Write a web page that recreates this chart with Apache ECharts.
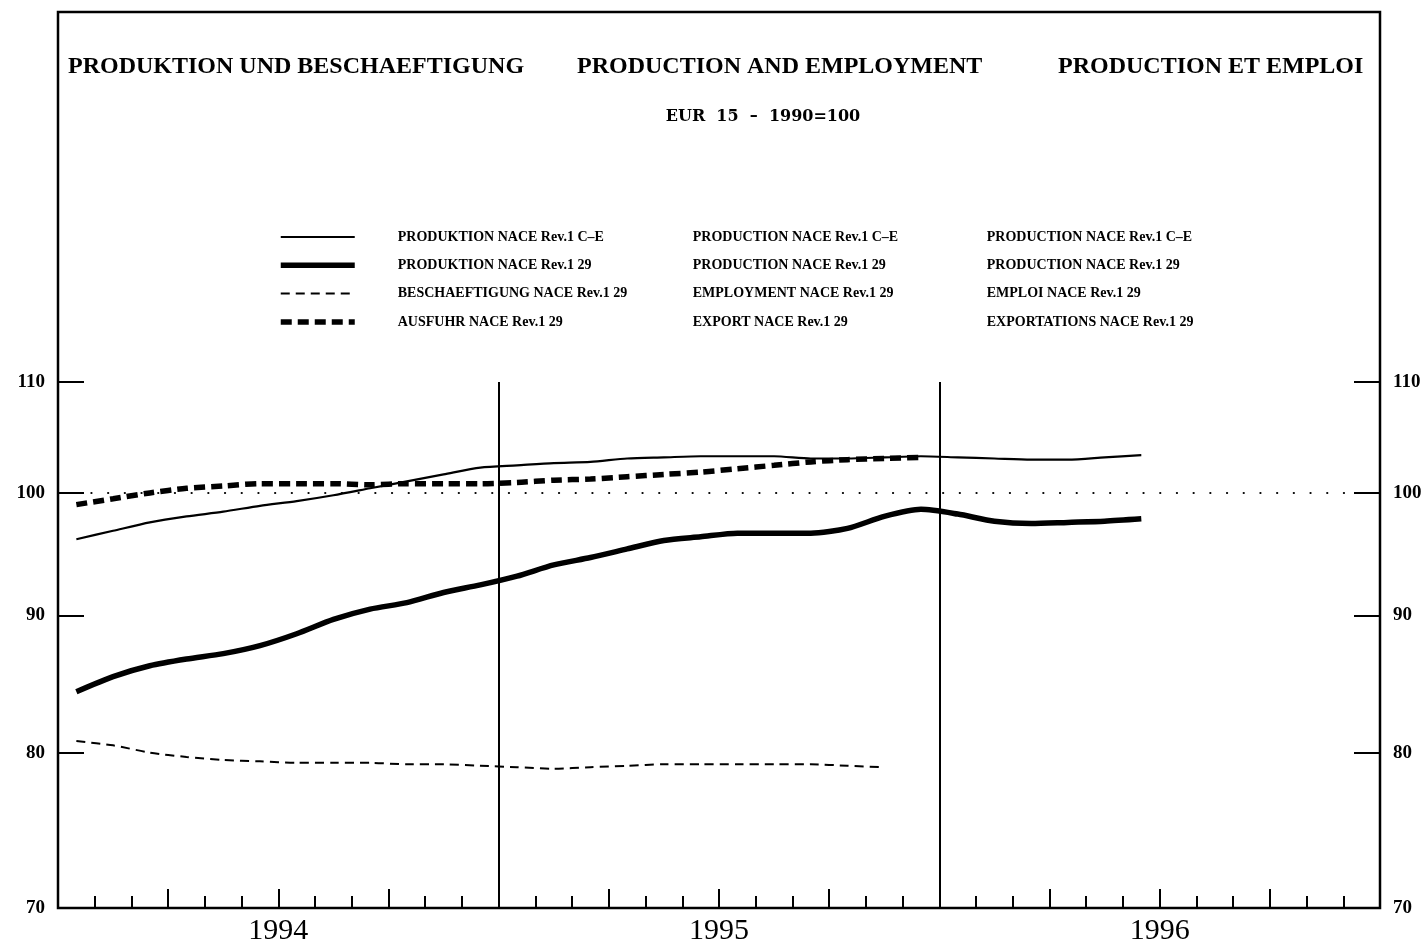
<!DOCTYPE html>
<html>
<head>
<meta charset="utf-8">
<script src="https://cdn.jsdelivr.net/npm/echarts@6/dist/echarts.min.js"></script>
<style>
html,body{margin:0;padding:0;background:#fff;}
#chart{width:1428px;height:942px;}
</style>
</head>
<body>
<div id="chart"></div>
<script>
// ---- data ----
const years = ['1994', '1995', '1996'];
const monthNames = ['01','02','03','04','05','06','07','08','09','10','11','12'];
const quarterNames = ['Q1','Q2','Q3','Q4'];
const yTicks = [70, 80, 90, 100, 110];

const prodCE = [96.1, 96.8, 97.5, 98.0, 98.4, 98.9, 99.3, 99.8, 100.4, 101.0, 101.6, 102.2,
                102.4, 102.6, 102.7, 103.0, 103.1, 103.2, 103.2, 103.2, 103.0, 103.0, 103.1, 103.2,
                103.1, 103.0, 102.9, 102.9, 103.1, 103.3];
const prod29 = [84.3, 85.4, 86.2, 86.7, 87.1, 87.7, 88.6, 89.7, 90.5, 91.0, 91.8, 92.4,
                93.1, 94.0, 94.6, 95.3, 96.0, 96.3, 96.6, 96.6, 96.6, 97.0, 98.0, 98.6,
                98.2, 97.6, 97.4, 97.5, 97.6, 97.8];
const employ29 = [80.8, 80.5, 80.0, 79.7, 79.5, 79.4, 79.3, 79.3, 79.3, 79.2, 79.2, 79.1,
                  79.0, 78.9, 79.0, 79.1, 79.2, 79.2, 79.2, 79.2, 79.2, 79.1, 79.0];
const export29 = [99.0, 99.5, 100.0, 100.4, 100.6, 100.8, 100.8, 100.8, 100.7, 100.8, 100.8, 100.8,
                  100.9, 101.1, 101.2, 101.4, 101.6, 101.8, 102.1, 102.4, 102.7, 102.9, 103.0, 103.1];
const baseValue = 100;

const legendDE = ['PRODUKTION NACE Rev.1 C\u2013E', 'PRODUKTION NACE Rev.1 29', 'BESCHAEFTIGUNG NACE Rev.1 29', 'AUSFUHR NACE Rev.1 29'];
const legendEN = ['PRODUCTION NACE Rev.1 C\u2013E', 'PRODUCTION NACE Rev.1 29', 'EMPLOYMENT NACE Rev.1 29', 'EXPORT NACE Rev.1 29'];
const legendFR = ['PRODUCTION NACE Rev.1 C\u2013E', 'PRODUCTION NACE Rev.1 29', 'EMPLOI NACE Rev.1 29', 'EXPORTATIONS NACE Rev.1 29'];

const titleDE = 'PRODUKTION UND BESCHAEFTIGUNG';
const titleEN = 'PRODUCTION AND EMPLOYMENT';
const titleFR = 'PRODUCTION ET EMPLOI';
const subtitle = 'EUR  15  \u2013  1990=100';

// ---- build ----
const categories = [];
years.forEach(y => monthNames.forEach(m => categories.push(y + '-' + m)));
const quarters = [];
years.forEach(y => quarterNames.forEach(q => quarters.push(y + q)));

const L = v => Math.log10(v);
const tf = arr => arr.map(L);

const serif = 'Liberation Serif';
const chart = echarts.init(document.getElementById('chart'), null, {renderer: 'canvas'});

const yAxisCommon = {
  type: 'value',
  gridIndex: 0,
  min: L(yTicks[0]),
  max: L(yTicks[yTicks.length - 1]),
  axisLine: {show: false},
  splitLine: {show: false},
  axisTick: {show: true, inside: true, length: 26, customValues: tf(yTicks), lineStyle: {color: '#000', width: 2}},
  axisLabel: {
    customValues: tf(yTicks),
    formatter: v => String(Math.round(Math.pow(10, v))),
    color: '#000', fontFamily: serif, fontWeight: 'bold', fontSize: 19, margin: 13
  }
};

const option = {
  backgroundColor: '#fff',
  animation: false,
  title: [
    {text: titleDE, left: 68, top: 55, padding: 0, textStyle: {fontFamily: serif, fontWeight: 'bold', fontSize: 24, color: '#000'}},
    {text: titleEN, left: 577, top: 55, padding: 0, textStyle: {fontFamily: serif, fontWeight: 'bold', fontSize: 24, color: '#000'}},
    {text: titleFR, left: 1058, top: 55, padding: 0, textStyle: {fontFamily: serif, fontWeight: 'bold', fontSize: 24, color: '#000'}},
    {text: subtitle, left: 763, textAlign: 'center', top: 109, padding: 0, textStyle: {fontFamily: 'DejaVu Serif', fontWeight: 'bold', fontSize: 16, color: '#000'}}
  ],
  legend: {
    orient: 'vertical',
    left: 278,
    top: 230,
    padding: 0,
    itemWidth: 74,
    itemHeight: 14,
    itemGap: 14.3,
    selectedMode: false,
    itemStyle: {opacity: 0, borderWidth: 0},
    lineStyle: {width: 'inherit', type: 'inherit', color: 'inherit'},
    data: legendDE,
    formatter: name => {
      const i = legendDE.indexOf(name);
      return '{s|}{a|' + legendDE[i] + '}{b|' + legendEN[i] + '}{c|' + legendFR[i] + '}';
    },
    textStyle: {
      fontFamily: serif, fontWeight: 'bold', fontSize: 14, color: '#000', lineHeight: 14,
      rich: {
        s: {width: 38},
        a: {width: 295, fontFamily: serif, fontWeight: 'bold', fontSize: 14, color: '#000'},
        b: {width: 294, fontFamily: serif, fontWeight: 'bold', fontSize: 14, color: '#000'},
        c: {fontFamily: serif, fontWeight: 'bold', fontSize: 14, color: '#000'}
      }
    }
  },
  grid: [
    {left: 58, right: 48, top: 382, bottom: 34, containLabel: false, outerBoundsMode: 'none'},
    {left: 58, right: 48, top: 12, bottom: 34, show: true, borderColor: '#000', borderWidth: 2.5, backgroundColor: 'transparent', outerBoundsMode: 'none'}
  ],
  xAxis: [
    {
      type: 'category', gridIndex: 0, position: 'bottom', data: categories, boundaryGap: true,
      axisLine: {show: false, onZero: false},
      axisTick: {show: true, inside: true, length: 12, interval: 0, alignWithLabel: false, lineStyle: {color: '#000', width: 2}},
      axisLabel: {show: false},
      splitLine: {show: true, interval: (i) => i === 12 || i === 24, lineStyle: {color: '#000', width: 2}}
    },
    {
      type: 'category', gridIndex: 0, position: 'bottom', data: quarters, boundaryGap: true,
      axisLine: {show: false, onZero: false},
      axisTick: {show: true, inside: true, length: 19, interval: 0, lineStyle: {color: '#000', width: 2}},
      axisLabel: {show: false},
      splitLine: {show: false}
    },
    {
      type: 'category', gridIndex: 0, position: 'bottom', data: years, boundaryGap: true,
      axisLine: {show: false, onZero: false},
      axisTick: {show: false},
      axisLabel: {show: true, interval: 0, margin: 8, color: '#000', fontFamily: serif, fontSize: 30},
      splitLine: {show: false}
    },
    {type: 'value', gridIndex: 1, show: false}
  ],
  yAxis: [
    Object.assign({}, yAxisCommon, {position: 'left'}),
    Object.assign({}, yAxisCommon, {position: 'right'}),
    {type: 'value', gridIndex: 1, show: false}
  ],
  series: [
    {
      name: legendDE[0], type: 'line', xAxisIndex: 0, yAxisIndex: 0,
      data: tf(prodCE), symbol: 'none', smooth: 0.25,
      lineStyle: {color: '#000', width: 2.2}, itemStyle: {color: '#000'},
      markLine: {
        silent: true, symbol: ['none', 'none'], label: {show: false},
        lineStyle: {color: '#000', width: 2.2, type: [0.1, 16.6], cap: 'round'},
        data: [{yAxis: L(baseValue)}]
      }
    },
    {
      name: legendDE[1], type: 'line', xAxisIndex: 0, yAxisIndex: 0,
      data: tf(prod29), symbol: 'none', smooth: 0.25,
      lineStyle: {color: '#000', width: 5.5}, itemStyle: {color: '#000'}
    },
    {
      name: legendDE[2], type: 'line', xAxisIndex: 0, yAxisIndex: 0,
      data: tf(employ29), symbol: 'none', smooth: 0.25,
      lineStyle: {color: '#000', width: 2, type: [9, 6]}, itemStyle: {color: '#000'}
    },
    {
      name: legendDE[3], type: 'line', xAxisIndex: 0, yAxisIndex: 0,
      data: tf(export29), symbol: 'none', smooth: 0.25,
      lineStyle: {color: '#000', width: 5.5, type: [11, 6]}, itemStyle: {color: '#000'}
    }
  ]
};
chart.setOption(option);
</script>
</body>
</html>
